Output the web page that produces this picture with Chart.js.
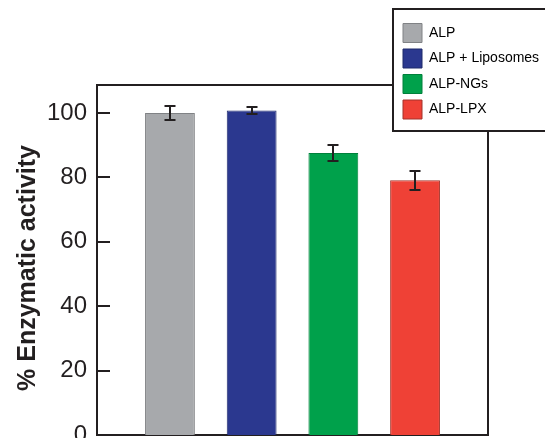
<!DOCTYPE html>
<html lang="en">
<head>
    <meta charset="UTF-8">
    <title>ALP enzymatic activity</title>
    <script src="https://cdn.jsdelivr.net/npm/chart.js"></script>
    <style>
        body {
          margin: 0;
          background: #fff;
          overflow: hidden;
        }
        .wrap {
          width: 545px;
          height: 470px;
        }
    </style>
</head>
<body>
<div class="wrap"><canvas id="activityChart" width="545" height="470"></canvas></div>

<script>
    const samples = ['ALP', 'ALP + Liposomes', 'ALP-NGs', 'ALP-LPX'];
    const activity = [100, 100.8, 87.6, 79.1];
    const activityErr = [2.1, 1.1, 2.4, 3.0];
    const yTicks = [0, 20, 40, 60, 80, 100];

    const barColors = ['#a7a9ac', '#2b388f', '#00a14b', '#ef4136'];
    const barEdges = ['#808285', '#1f2a6b', '#00803b', '#a3332a'];
    const ink = '#231f20';
    const family = "'Liberation Sans', Arial, sans-serif";

    // legend box sits on top of the frame, top right corner
    const legendBox = {left: 393, top: 9, right: 570, bottom: 131};

    const framePlugin = {
      id: 'frame',
      afterLayout(chart) {
        const lg = chart.legend;
        lg.left = legendBox.left + 3.5;
        lg.top = legendBox.top + 8;
        lg.right = legendBox.right;
        lg.bottom = legendBox.bottom;
        lg.width = lg.right - lg.left;
        lg.height = lg.bottom - lg.top;
        // axis title sits a little below the middle of the frame
        chart.scales.y.top += 16;
      },
      beforeDraw(chart) {
        const {ctx, chartArea: a} = chart;
        ctx.save();
        ctx.strokeStyle = ink;
        ctx.lineWidth = 2;
        ctx.strokeRect(a.left, a.top, a.right - a.left, a.bottom - a.top);
        ctx.fillStyle = '#fff';
        const w = legendBox.right - legendBox.left;
        const h = legendBox.bottom - legendBox.top;
        ctx.fillRect(legendBox.left, legendBox.top, w, h);
        ctx.strokeRect(legendBox.left, legendBox.top, w, h);
        ctx.restore();
      },
      afterDatasetsDraw(chart) {
        const {ctx, chartArea: a, scales: {x, y}} = chart;
        ctx.save();
        ctx.strokeStyle = ink;
        ctx.lineWidth = 2;
        ctx.beginPath();
        // error bars
        activity.forEach((v, i) => {
          const px = Math.round(x.getPixelForValue(i));
          const top = Math.round(y.getPixelForValue(v + activityErr[i]));
          const bot = Math.round(y.getPixelForValue(v - activityErr[i]));
          ctx.moveTo(px, top);
          ctx.lineTo(px, bot);
          ctx.moveTo(px - 5.5, top);
          ctx.lineTo(px + 5.5, top);
          ctx.moveTo(px - 5.5, bot);
          ctx.lineTo(px + 5.5, bot);
        });
        // tick marks point inwards
        y.ticks.forEach(t => {
          if (t.value === 0) return;
          const py = Math.round(y.getPixelForValue(t.value));
          ctx.moveTo(a.left, py);
          ctx.lineTo(a.left + 13, py);
        });
        ctx.stroke();
        ctx.restore();
      }
    };

    new Chart(document.getElementById('activityChart'), {
      type: 'bar',
      data: {
        datasets: [{
          data: activity.map((v, i) => ({x: i, y: v})),
          backgroundColor: barColors,
          borderColor: barEdges,
          borderWidth: 1,
          barPercentage: 0.61,
          categoryPercentage: 1
        }]
      },
      options: {
        responsive: false,
        animation: false,
        layout: {padding: {top: 85, right: 57, bottom: 15, left: 0}},
        scales: {
          x: {
            type: 'linear',
            offset: false,
            min: -0.893,
            max: 3.893,
            afterBuildTicks: s => { s.ticks = samples.map((_, i) => ({value: i})); },
            ticks: {display: false},
            grid: {display: false, drawTicks: false, offset: false},
            border: {color: ink, width: 2},
            afterFit: s => { s.height = 20; }
          },
          y: {
            min: 0,
            max: 108.7,
            afterBuildTicks: s => { s.ticks = yTicks.map(v => ({value: v})); },
            ticks: {color: ink, padding: 10, font: {family: family, size: 24}},
            grid: {display: false, drawTicks: false},
            border: {display: false},
            title: {
              display: true,
              text: '% Enzymatic activity',
              color: ink,
              font: {family: family, size: 25, weight: 'bold'},
              padding: {top: 13, bottom: 0}
            },
            afterFit: s => { s.width = 97; }
          }
        },
        plugins: {
          legend: {
            position: 'chartArea',
            align: 'start',
            labels: {
              boxWidth: 19,
              boxHeight: 19,
              padding: 6.5,
              color: ink,
              font: {family: family, size: 14},
              generateLabels: () => samples.map((s, i) => ({
                text: s,
                fillStyle: barColors[i],
                strokeStyle: barEdges[i],
                lineWidth: 1,
                hidden: false,
                index: i,
                datasetIndex: 0
              }))
            }
          },
          tooltip: {enabled: false}
        }
      },
      plugins: [framePlugin]
    });
</script>
</body>
</html>
